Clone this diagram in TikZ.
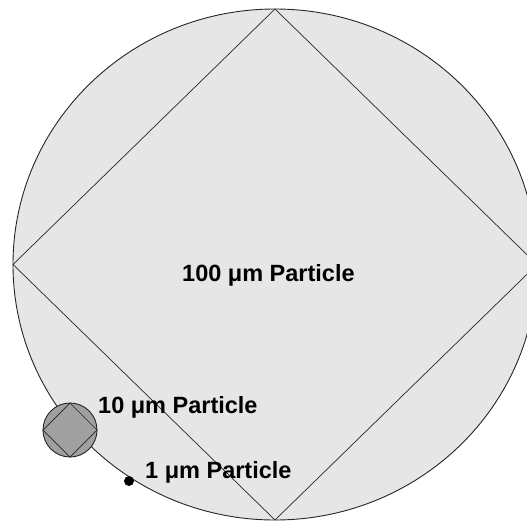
\documentclass[tikz,border=0pt]{standalone}
\usepackage{fontspec}
\setmainfont{Liberation Sans}
\definecolor{lightfill}{RGB}{230,230,230}
\definecolor{darkfill}{RGB}{160,160,160}
\tikzset{
  particle/.style={draw=black!85, line width=0.9pt},
  label/.style={font=\fontsize{23.5}{26}\selectfont\bfseries, anchor=west, inner sep=0pt}
}
\begin{document}
\begin{tikzpicture}[x=1pt, y=-1pt]
        \useasboundingbox (0,0) rectangle (527,522);
        % 100 um particle
        \begin{scope}
            \clip (0,0) rectangle (527,522);
            \fill[lightfill] (275,264.5) ellipse [x radius=262pt, y radius=255.5pt];
            \draw[particle] (275,264.5) ellipse [x radius=262pt, y radius=255.5pt];
            \draw[particle, line width=0.7pt] (275,9) -- (13,264.5) -- (275,520) -- (537,264.5) -- cycle;
        \end{scope}
        \node[label] (big) at (182,275) {100 μm Particle};

        % 10 um particle
        \fill[darkfill] (70,430) circle [radius=27pt];
        \draw[particle] (70,430) circle [radius=27pt];
        \draw[particle, line width=0.7pt] (70,403) -- (43,430) -- (70,457) -- (97,430) -- cycle;
        \node[label] (medium) at (98,407) {10 μm Particle};

        % 1 um particle
        \fill[black] (129,481) circle [radius=5pt];
        \node[label] (small) at (145,472) {1 μm Particle};
\end{tikzpicture}
\end{document}
